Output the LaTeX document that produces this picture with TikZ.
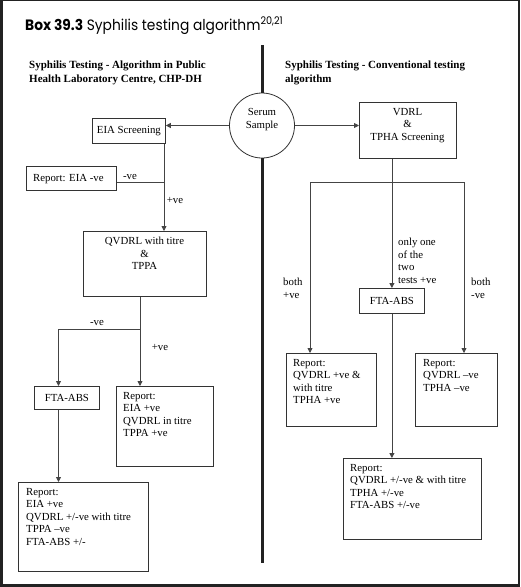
\documentclass[tikz,border=0pt]{standalone}
\usepackage{fontspec}
\setmainfont{Liberation Serif}
\newfontfamily\titlefont{Poppins}
\usetikzlibrary{arrows.meta}
\definecolor{framec}{HTML}{222222}
\definecolor{boxc}{HTML}{333333}
\definecolor{linec}{HTML}{444444}
\begin{document}
\begin{tikzpicture}[x=1pt,y=-1pt,
  box/.style={draw=boxc,line width=0.8pt,inner sep=0pt,anchor=north west,font=\fontsize{10.8}{12.5}\selectfont},
  txt/.style={font=\fontsize{10.8}{12.5}\selectfont,inner sep=0pt,align=left,anchor=north west},
  ctxt/.style={font=\fontsize{10.8}{12.5}\selectfont,inner sep=0pt,align=center,anchor=north},
  lbl/.style={font=\fontsize{10.8}{12.5}\selectfont,inner sep=0pt},
  head/.style={font=\bfseries\fontsize{11}{14}\selectfont,inner sep=0pt,align=left,anchor=north west},
  conn/.style={draw=linec,line width=0.8pt},
  arr/.style={conn,-{Triangle[length=5pt,width=5pt]}},
  divider/.style={draw=framec,line width=3pt}]
\useasboundingbox (0,0) rectangle (520,587);
\fill[framec] (0,0) rectangle (520,587);
\fill[white] (3,1) rectangle (518,584);

% title
\node[anchor=base west,inner sep=0pt,xscale=0.92,font=\titlefont\fontsize{15}{18}\selectfont] (title) at (25,30)
  {\textbf{Box 39.3} Syphilis testing algorithm\textsuperscript{20,21}};

% headers
\node[head] (hl) at (29,60.5) {Syphilis Testing - Algorithm in Public\\Health Laboratory Centre, CHP-DH};
\node[head] (hr) at (285,60.5) {Syphilis Testing - Conventional testing\\algorithm};

% serum sample and divider
\node[draw=boxc,line width=0.8pt,circle,minimum size=65pt,inner sep=0pt] (serum) at (262,125.5) {};
\node[ctxt] (serumt) at (262,108.5) {Serum\\Sample};
\coordinate (dtop) at (262,45);
\coordinate (dbot) at (262,563);
\draw[divider] (dtop) -- (serum.north);
\draw[divider] (serum.south) -- (dbot);

% left algorithm
\node[box,minimum width=73pt,minimum height=25pt] (eia) at (92,118) {EIA Screening};
\node[box,minimum width=90pt,minimum height=24pt] (repneg) at (26,166) {};
\node[txt] (repnegt) at (33,174) {Report: EIA -ve};
\node[box,minimum width=123pt,minimum height=65pt] (qv) at (83,231) {};
\node[ctxt] (qvt) at (144.5,237) {QVDRL with titre\\\&\\TPPA};
\node[box,minimum width=65pt,minimum height=23pt] (fta1) at (34,386) {FTA-ABS};
\node[box,minimum width=97pt,minimum height=80pt] (rep1) at (116,386) {};
\node[txt] (rep1t) at (123,392) {Report:\\EIA +ve\\QVDRL in titre\\TPPA +ve};
\node[box,minimum width=130pt,minimum height=89pt] (rep2) at (18,482) {};
\node[txt] (rep2t) at (26,488) {Report:\\EIA +ve\\QVDRL +/-ve with titre\\TPPA --ve\\FTA-ABS +/-};

\coordinate (j1) at (164,182);
\coordinate (j2) at (140,329);
\coordinate (j3) at (58.5,329);
\draw[arr] (serum.west) -- (serum.west -| eia.east);
\draw[conn] (eia.south -| j1) -- (j1);
\draw[arr] (j1) -- (qv.north -| j1);
\draw[conn] (j1) -- (repneg.east |- j1);
\draw[conn] (qv.south -| j2) -- (j2);
\draw[arr] (j2) -- (rep1.north -| j2);
\draw[arr] (j2) -- (j3) -- (fta1.north -| j3);
\draw[arr] (fta1.south -| j3) -- (rep2.north -| j3);

\node[lbl] (l1) at (130,177) {-ve};
\node[lbl] (l2) at (175,200) {+ve};
\node[lbl] (l3) at (97,323) {-ve};
\node[lbl] (l4) at (160,347) {+ve};

% right algorithm
\node[box,minimum width=97pt,minimum height=56pt] (vdrl) at (359,102) {};
\node[ctxt] (vdrlt) at (407.5,108) {VDRL\\\&\\TPHA Screening};
\node[box,minimum width=65pt,minimum height=25pt] (fta2) at (359,288) {FTA-ABS};
\node[box,minimum width=90pt,minimum height=73pt] (rep3) at (286,353) {};
\node[txt] (rep3t) at (293,359) {Report:\\QVDRL +ve \&\\with titre\\TPHA +ve};
\node[box,minimum width=82pt,minimum height=73pt] (rep4) at (415,353) {};
\node[txt] (rep4t) at (423,359) {Report:\\QVDRL --ve\\TPHA --ve};
\node[box,minimum width=138pt,minimum height=81pt] (rep5) at (343,458) {};
\node[txt] (rep5t) at (350,464) {Report:\\QVDRL +/-ve \& with titre\\TPHA +/-ve\\FTA-ABS +/-ve};

\coordinate (j5) at (310,182);
\coordinate (j6) at (464,182);
\draw[arr] (serum.east) -- (serum.east -| vdrl.west);
\draw[arr] (vdrl.south -| fta2.north) -- (fta2.north);
\draw[conn] (j5) -- (j6);
\draw[arr] (j5) -- (rep3.north -| j5);
\draw[arr] (j6) -- (rep4.north -| j6);
\draw[arr] (fta2.south) -- (fta2.south |- rep5.north);

\node[txt] (l5) at (398,238) {only one\\of the\\two\\tests +ve};
\node[txt] (l6) at (283,278) {both\\+ve};
\node[txt] (l7) at (471,278) {both\\-ve};
\end{tikzpicture}
\end{document}
